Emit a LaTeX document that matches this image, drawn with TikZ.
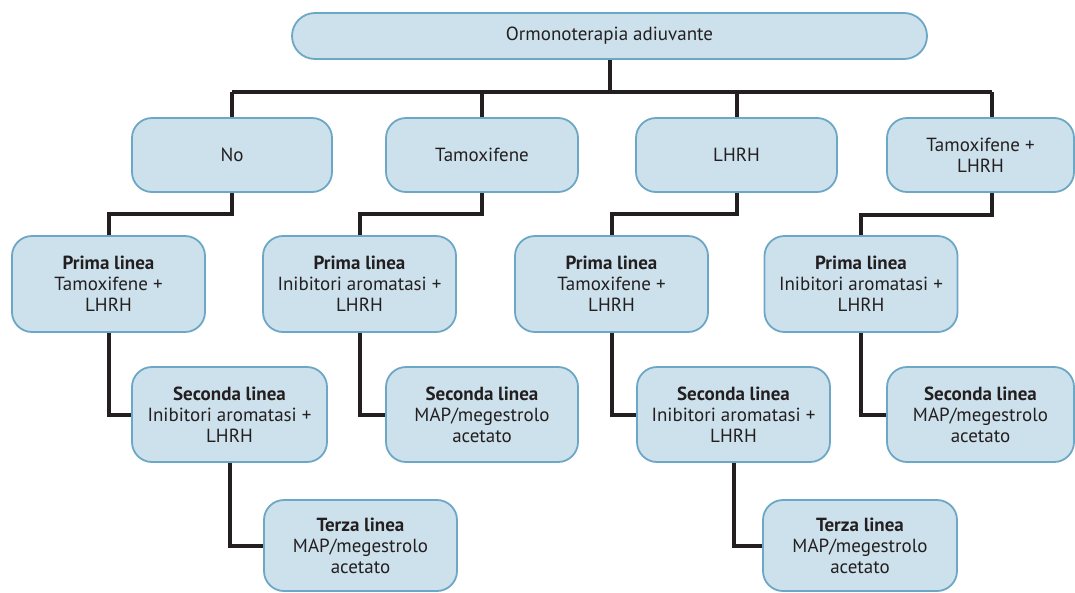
\documentclass[tikz,border=0pt]{standalone}
\usepackage{fontspec}
\setmainfont{PT Sans}
\usetikzlibrary{backgrounds}
\definecolor{boxfill}{HTML}{CDE1EC}
\definecolor{boxline}{HTML}{6CA7C6}
\definecolor{ink}{HTML}{231F20}
\tikzset{
  cell/.style={draw=boxline, fill=boxfill, line width=1.8pt, rounded corners=20pt,
    inner sep=0pt, align=center, text=ink,
    font=\fontsize{19}{21}\selectfont},
  lvl/.style={cell, minimum width=#1, minimum height=74pt},
  stage/.style={cell, minimum width=#1, minimum height=95pt},
  link/.style={draw=ink, line width=4pt}
}
\begin{document}
\begin{tikzpicture}[x=1pt,y=-1pt]
\useasboundingbox (0,0) rectangle (1075,592);

% root
\node[cell, minimum width=635pt, minimum height=46pt, rounded corners=23pt] (root) at (609.5,36) {Ormonoterapia adiuvante};

% first level
\node[lvl=200pt] (no)  at (232,155)   {No};
\node[lvl=192pt] (tam) at (482,155)   {Tamoxifene};
\node[lvl=201pt] (lh)  at (736.5,155) {LHRH};
\node[lvl=187pt] (tl)  at (980.5,155) {Tamoxifene +\\LHRH};

% first line treatments
\node[stage=193pt, minimum height=96pt] (p1) at (108.5,284) {\textbf{Prima linea}\\Tamoxifene +\\LHRH};
\node[stage=193pt, minimum height=96pt] (p2) at (359.5,284) {\textbf{Prima linea}\\Inibitori aromatasi +\\LHRH};
\node[stage=193pt, minimum height=96pt] (p3) at (611.5,284) {\textbf{Prima linea}\\Tamoxifene +\\LHRH};
\node[stage=193pt, minimum height=96pt] (p4) at (861,284)   {\textbf{Prima linea}\\Inibitori aromatasi +\\LHRH};

% second line treatments
\node[stage=195pt] (s1) at (229.5,414.5) {\textbf{Seconda linea}\\Inibitori aromatasi +\\LHRH};
\node[stage=192pt] (s2) at (482,414.5)   {\textbf{Seconda linea}\\MAP/megestrolo\\acetato};
\node[stage=193pt] (s3) at (733.5,414.5) {\textbf{Seconda linea}\\Inibitori aromatasi +\\LHRH};
\node[stage=187pt] (s4) at (980.5,414.5) {\textbf{Seconda linea}\\MAP/megestrolo\\acetato};

% third line treatments
\node[stage=193pt, minimum height=91pt] (t1) at (360.5,545.5) {\textbf{Terza linea}\\MAP/megestrolo\\acetato};
\node[stage=194pt, minimum height=91pt] (t2) at (860,545.5)   {\textbf{Terza linea}\\MAP/megestrolo\\acetato};

\begin{scope}[on background layer]
  \coordinate (bus) at (0,92);
  \coordinate (tlin)  at ([xshift=11.5pt]tl.north);
  \coordinate (tlout) at ([xshift=11.5pt]tl.south);
  % root to first level
  \draw[link] (root.south) -- (root.south |- bus);
  \draw[link] (no.north |- bus) -- (tlin |- bus);
  \draw[link] (no.north |- bus) -- (no.north);
  \draw[link] (tam.north |- bus) -- (tam.north);
  \draw[link] (lh.north |- bus) -- (lh.north);
  \draw[link] (tlin |- bus) -- (tlin);
  % first level to first line
  \draw[link] (no.south) -- ++(0,21) -| (p1.north);
  \draw[link] (tam.south) -- ++(0,21) -| (p2.north);
  \draw[link] (lh.south) -- ++(0,21) -| (p3.north);
  \draw[link] (tlout) -- ++(0,22) -| (p4.north);
  % first line to second line
  \draw[link] (p1.south) |- (s1.west);
  \draw[link] (p2.south) |- (s2.west);
  \draw[link] (p3.south) |- (s3.west);
  \draw[link] (p4.south) |- (s4.west);
  % second line to third line
  \draw[link] (s1.south) |- (t1.west);
  \draw[link] (s3.south) |- (t2.west);
\end{scope}
\end{tikzpicture}
\end{document}
